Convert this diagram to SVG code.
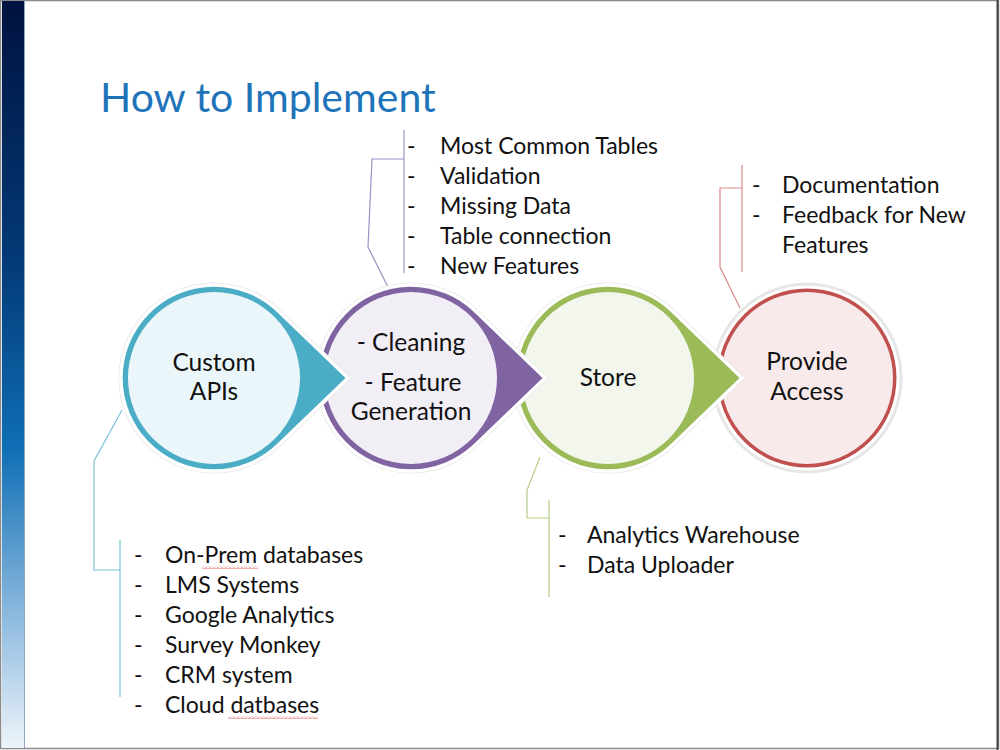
<svg xmlns="http://www.w3.org/2000/svg" width="1000" height="750" viewBox="0 0 1000 750">
  <defs>
    <linearGradient id="bar" x1="0" y1="0" x2="0" y2="1">
      <stop offset="0" stop-color="#00123f"/>
      <stop offset="0.35" stop-color="#033a78"/>
      <stop offset="0.6" stop-color="#0f6fb5"/>
      <stop offset="0.8" stop-color="#7fb2db"/>
      <stop offset="1" stop-color="#eef4fa"/>
    </linearGradient>
    <pattern id="squig" x="0" y="0" width="4" height="3" patternUnits="userSpaceOnUse">
      <path d="M0,2.5 L2,0.5 L4,2.5" fill="none" stroke="#e05050" stroke-width="0.9"/>
    </pattern>
    <style>
      .t{font-family:"Lato","Liberation Sans",sans-serif;fill:#111;}
      .node{font-size:24.5px;text-anchor:middle;}
      .li{font-size:23px;}
      .halo{stroke:#e6e6e6;stroke-width:5;fill:none;}
      .edge{stroke:#fff;stroke-width:3.5;}
    </style>
  </defs>
  <rect x="0" y="0" width="1000" height="750" fill="#fff"/>
  <rect x="0.5" y="0.5" width="998" height="748" fill="none" stroke="#8a8a8a" stroke-width="1.5"/>
  <line x1="997.5" y1="0" x2="997.5" y2="750" stroke="#444" stroke-width="2"/>
  <rect x="2" y="1" width="22" height="747" fill="url(#bar)"/>
  <line x1="24.5" y1="1" x2="24.5" y2="748" stroke="#8fa6c4" stroke-width="1"/>

  <text class="t" x="100" y="112" font-size="41" style="fill:#1f74b9">How to Implement</text>

  <g id="connectors" fill="none" stroke-width="1.2">
    <polyline points="122,410 94,461 94,570 120,570" stroke="#7dc3d6"/>
    <line x1="120" y1="540" x2="120" y2="697" stroke="#7dc3d6"/>
    <polyline points="388,287 368,247 372,159 404,159" stroke="#a08fc4"/>
    <line x1="404" y1="130" x2="404" y2="273" stroke="#a08fc4"/>
    <polyline points="540,457 527,490 527,518 549,518" stroke="#b5cc85"/>
    <line x1="549" y1="500" x2="549" y2="597" stroke="#b5cc85"/>
    <polyline points="740,308 720,267 720,188 742,188" stroke="#d98b89"/>
    <line x1="742" y1="165" x2="742" y2="272" stroke="#d98b89"/>
  </g>

  <g id="provide-access">
    <circle cx="807" cy="378" r="93" class="halo"/>
    <circle cx="807" cy="378" r="91" fill="#c0504d" stroke="#fff" stroke-width="3"/>
    <circle cx="807" cy="378" r="86" fill="#f8eaea"/>
    <text class="t node" x="807" y="370">Provide</text>
    <text class="t node" x="807" y="400">Access</text>
  </g>

  <g id="store">
    <path d="M742,378 L671.6,445.8 A93 93 0 1 1 671.6,310.2 Z" class="halo"/>
    <path d="M742,378 L671.6,445.8 A93 93 0 1 1 671.6,310.2 Z" fill="#9bbb59" class="edge"/>
    <circle cx="608" cy="378" r="86" fill="#f2f6ec"/>
    <text class="t node" x="608" y="386">Store</text>
  </g>

  <g id="cleaning">
    <path d="M545,378 L474.6,445.8 A93 93 0 1 1 474.6,310.2 Z" class="halo"/>
    <path d="M545,378 L474.6,445.8 A93 93 0 1 1 474.6,310.2 Z" fill="#8064a2" class="edge"/>
    <circle cx="411" cy="378" r="86" fill="#f1eef6"/>
    <text class="t node" x="411" y="351">- Cleaning</text>
    <text class="t node" x="413" y="391">- Feature</text>
    <text class="t node" x="411" y="420">Generation</text>
  </g>

  <g id="custom-apis">
    <path d="M348,378 L277.6,445.8 A93 93 0 1 1 277.6,310.2 Z" class="halo"/>
    <path d="M348,378 L277.6,445.8 A93 93 0 1 1 277.6,310.2 Z" fill="#4bacc6" class="edge"/>
    <circle cx="214" cy="378" r="86" fill="#eaf6f9"/>
    <text class="t node" x="214" y="371">Custom</text>
    <text class="t node" x="214" y="400">APIs</text>
  </g>

  <g id="list-cleaning" class="t li">
    <text x="407" y="154">-</text><text x="440" y="154">Most Common Tables</text>
    <text x="407" y="184">-</text><text x="440" y="184">Validation</text>
    <text x="407" y="214">-</text><text x="440" y="214">Missing Data</text>
    <text x="407" y="244">-</text><text x="440" y="244">Table connection</text>
    <text x="407" y="274">-</text><text x="440" y="274">New Features</text>
  </g>

  <g id="list-access" class="t li">
    <text x="752" y="193">-</text><text x="782" y="193">Documentation</text>
    <text x="752" y="223">-</text><text x="782" y="223">Feedback for New</text>
    <text x="782" y="253">Features</text>
  </g>

  <g id="list-store" class="t li">
    <text x="558" y="543">-</text><text x="587" y="543">Analytics Warehouse</text>
    <text x="558" y="573">-</text><text x="587" y="573">Data Uploader</text>
  </g>

  <g id="list-apis" class="t li">
    <text x="134" y="563">-</text><text x="165" y="563">On-Prem databases</text>
    <text x="134" y="593">-</text><text x="165" y="593">LMS Systems</text>
    <text x="134" y="623">-</text><text x="165" y="623">Google Analytics</text>
    <text x="134" y="653">-</text><text x="165" y="653">Survey Monkey</text>
    <text x="134" y="683">-</text><text x="165" y="683">CRM system</text>
    <text x="134" y="713">-</text><text x="165" y="713">Cloud datbases</text>
    <rect x="202" y="566" width="56" height="3" fill="url(#squig)"/>
    <rect x="228" y="716" width="90" height="3" fill="url(#squig)"/>
  </g>
</svg>
